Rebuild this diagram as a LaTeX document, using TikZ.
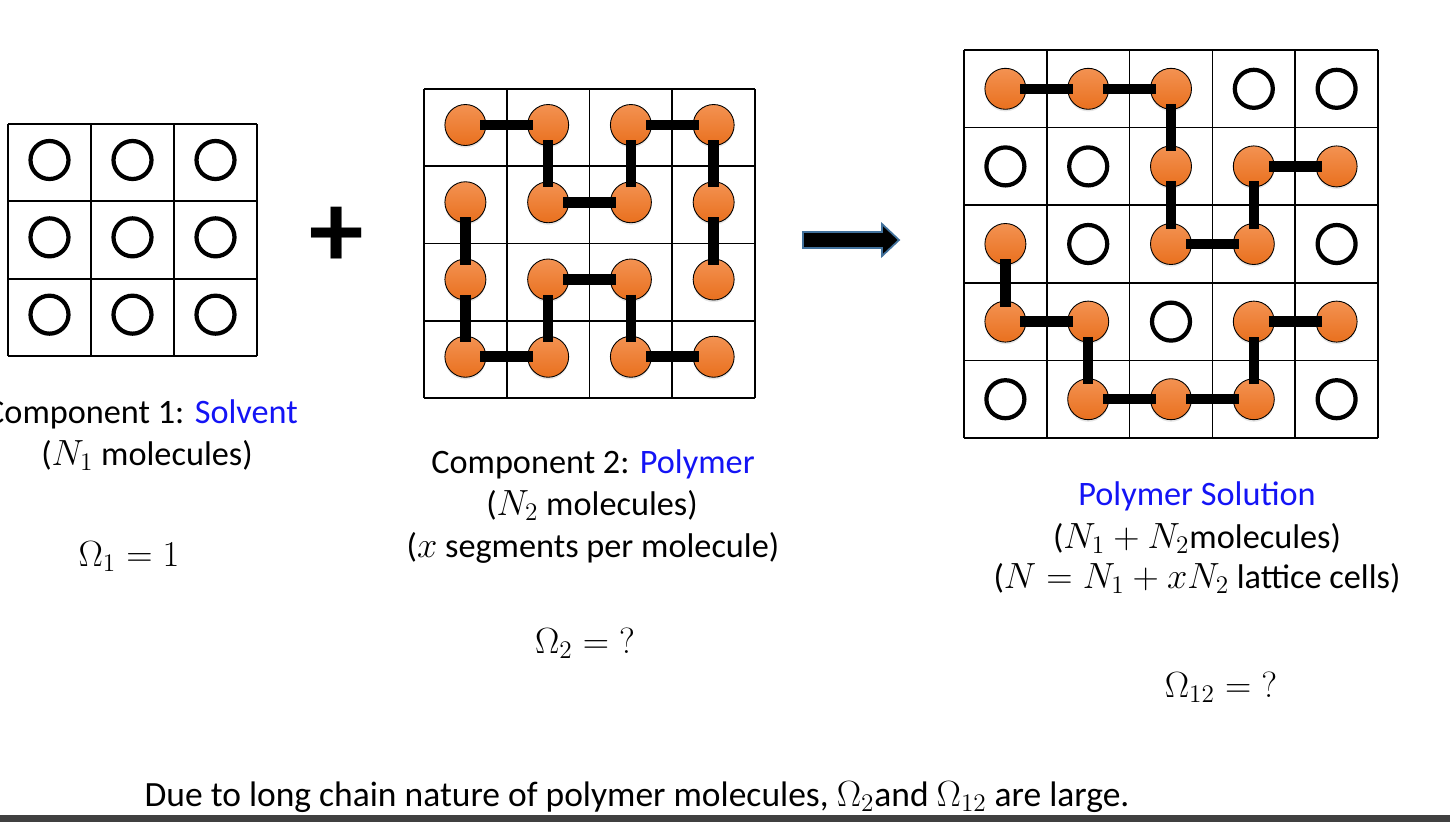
\documentclass[tikz,border=0pt]{standalone}
\usepackage{fontspec}
\setmainfont{Carlito}
\usetikzlibrary{shadows}
\definecolor{segtop}{RGB}{243,146,82}
\definecolor{segbot}{RGB}{233,112,30}
\definecolor{arrowedge}{RGB}{65,113,156}
\definecolor{keyblue}{RGB}{20,20,245}

\begin{document}
\begin{tikzpicture}[x=0.02cm, y=-0.02cm,
  gridline/.style={line width=1pt},
  solvent/.style={circle, draw, line width=2.4pt, fill=white, minimum size=0.76cm,
    inner sep=0pt, drop shadow={opacity=0.2, shadow xshift=0pt, shadow yshift=-1.2pt}},
  segment/.style={circle, draw, line width=0.5pt, top color=segtop, bottom color=segbot,
    minimum size=0.82cm, inner sep=0pt,
    drop shadow={opacity=0.2, shadow xshift=0pt, shadow yshift=-1.2pt}},
  bond/.style={line width=6pt, shorten <=0.3cm, shorten >=0.3cm},
  txt/.style={font=\fontsize{19.5}{23}\selectfont, anchor=base},
  eqn/.style={font=\fontsize{22.5}{26}\selectfont, anchor=base}]
  \useasboundingbox (0,0) rectangle (1450,822);

  % pure solvent lattice
  \foreach \i in {0,...,3} {
    \draw[gridline] (8+83*\i,124) -- (8+83*\i,356);
    \draw[gridline] (8,124+77.33*\i) -- (257,124+77.33*\i);
  }
  \foreach \r in {0,1,2}
    \foreach \c in {0,1,2}
      \node[solvent] (a-\r-\c) at (49.5+83*\c,160+77.33*\r) {};

  \node[font=\fontsize{62}{62}\selectfont\bfseries] (plus) at (337,237) {+};

  % pure polymer lattice
  \foreach \i in {0,...,4} {
    \draw[gridline] (424+82.75*\i,89) -- (424+82.75*\i,398);
    \draw[gridline] (424,89+77.25*\i) -- (755,89+77.25*\i);
  }
  \foreach \r in {0,...,3}
    \foreach \c in {0,...,3}
      \node[segment] (b-\r-\c) at (465.4+82.75*\c,125+77.25*\r) {};
  \foreach \u/\v in {0-0/0-1, 0-1/1-1, 1-1/1-2, 1-2/0-2, 0-2/0-3, 0-3/1-3, 1-3/2-3,
                     1-0/2-0, 2-0/3-0, 3-0/3-1, 3-1/2-1, 2-1/2-2, 2-2/3-2, 3-2/3-3}
    \draw[bond] (b-\u.center) -- (b-\v.center);

  \draw[fill=black, draw=arrowedge, line width=1pt]
    (803,232) -- (882,232) -- (882,224) -- (899,240) -- (882,256) -- (882,248) -- (803,248) -- cycle;

  % mixed lattice
  \foreach \i in {0,...,5} {
    \draw[gridline] (964+82.8*\i,50) -- (964+82.8*\i,438);
    \draw[gridline] (964,50+77.6*\i) -- (1378,50+77.6*\i);
  }
  \foreach \r/\c in {0/3,0/4,1/0,1/1,2/1,2/4,3/2,4/0,4/4}
    \node[solvent] (c-\r-\c) at (1005.4+82.8*\c,88.8+77.6*\r) {};
  \foreach \r/\c in {0/0,0/1,0/2,1/2,1/3,1/4,2/0,2/2,2/3,3/0,3/1,3/3,3/4,4/1,4/2,4/3}
    \node[segment] (c-\r-\c) at (1005.4+82.8*\c,88.8+77.6*\r) {};
  \foreach \u/\v in {0-0/0-1, 0-1/0-2, 0-2/1-2, 1-2/2-2, 2-2/2-3, 2-3/1-3, 1-3/1-4,
                     2-0/3-0, 3-0/3-1, 3-1/4-1, 4-1/4-2, 4-2/4-3, 4-3/3-3, 3-3/3-4}
    \draw[bond] (c-\u.center) -- (c-\v.center);

  % labels
  \node[txt] (lab1) at (142,423) {Component 1: \textcolor{keyblue}{Solvent}};
  \node[txt] (num1) at (147,465) {($N_1$ molecules)};
  \node[eqn] (om1) at (129,566) {$\Omega_1 = 1$};
  \node[txt] (lab2) at (593,473) {Component 2: \textcolor{keyblue}{Polymer}};
  \node[txt] (num2) at (592,515) {($N_2$ molecules)};
  \node[txt] (seg2) at (593,557) {($x$ segments per molecule)};
  \node[eqn] (om2) at (585,653) {$\Omega_2 = {?}$};
  \node[txt, text=keyblue] (lab3) at (1197,505) {Polymer Solution};
  \node[txt] (num3) at (1197,548) {($N_1 + N_2$molecules)};
  \node[txt] (cell3) at (1197,588) {($N = N_1 + xN_2$ lattice cells)};
  \node[eqn] (om3) at (1221,697) {$\Omega_{12} = {?}$};
  \node[txt, font=\fontsize{20.2}{24}\selectfont] (note) at (637,806)
    {Due to long chain nature of polymer molecules, $\Omega_2$and $\Omega_{12}$ are large.};

  \fill[black!75] (0,815) rectangle (1450,822);
\end{tikzpicture}
\end{document}
